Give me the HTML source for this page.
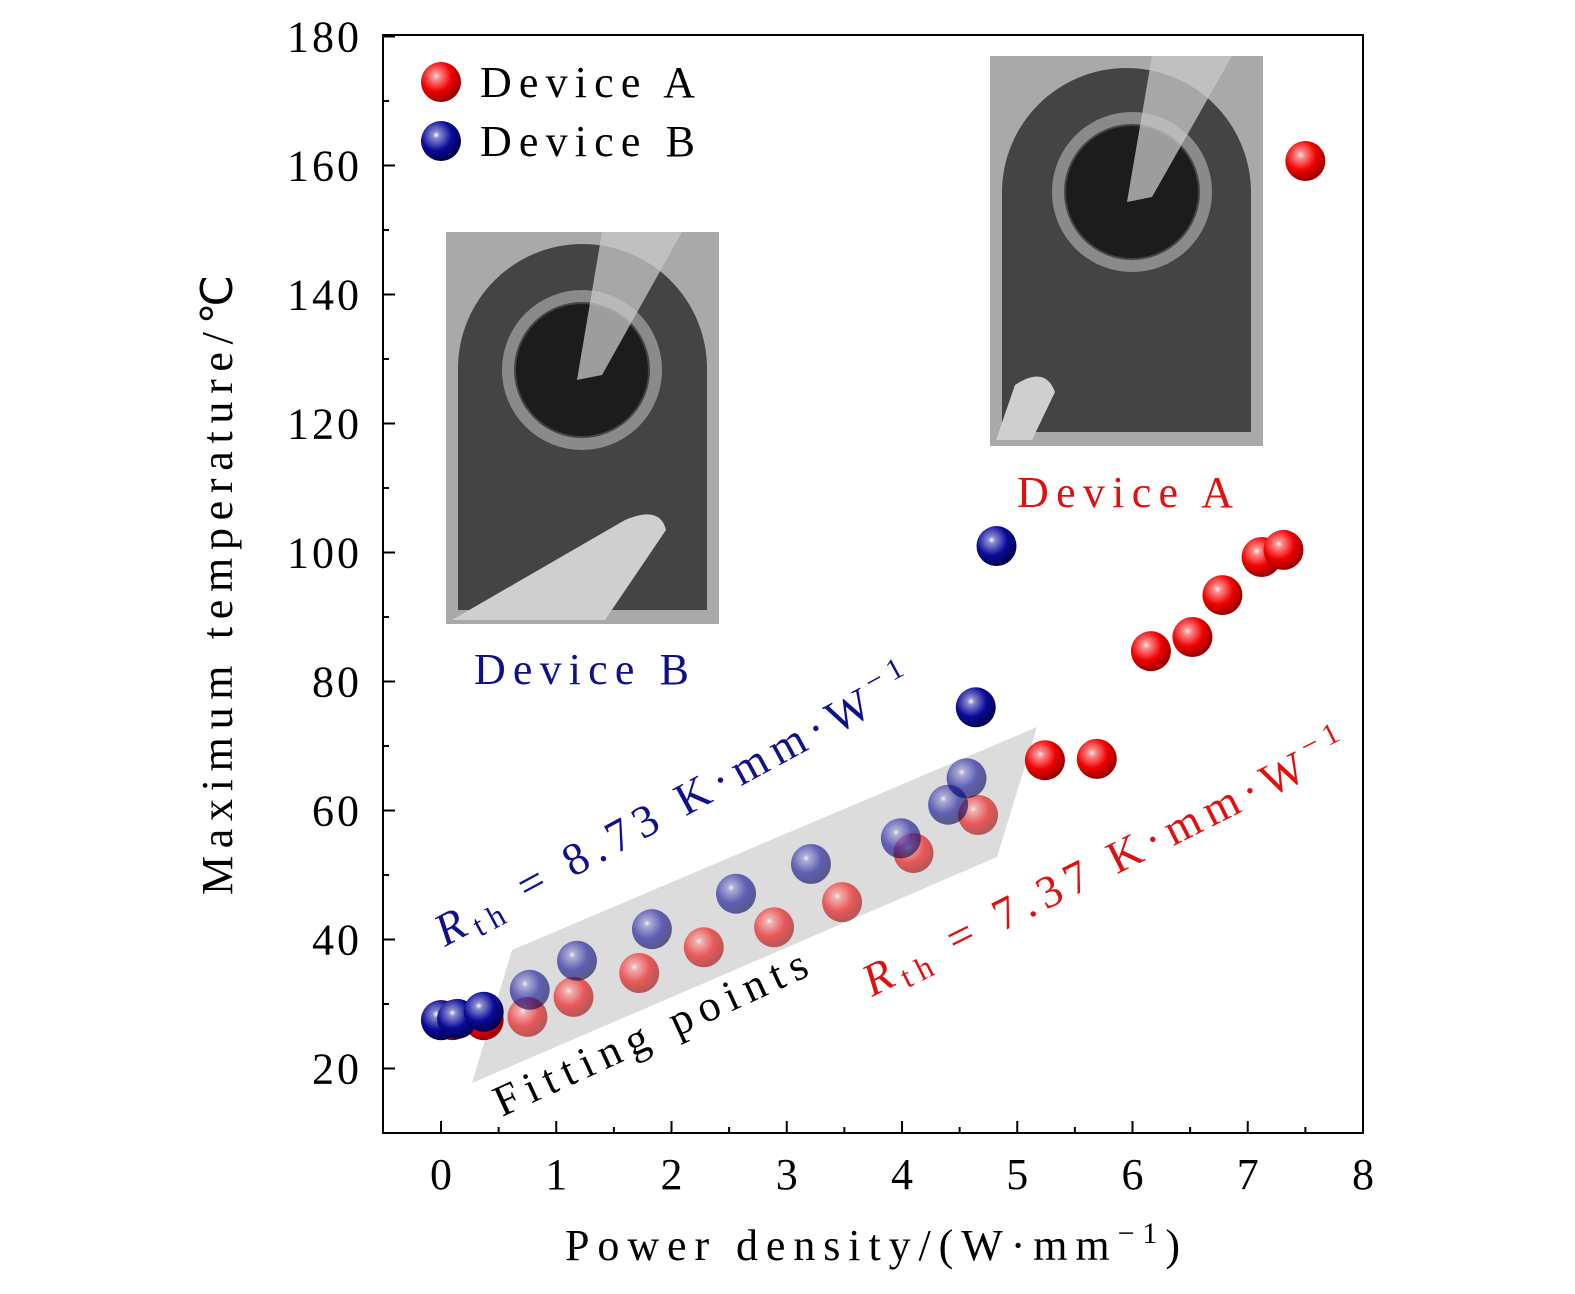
<!DOCTYPE html>
<html><head><meta charset="utf-8"><style>
body{margin:0;background:#fff}
svg text{font-family:"Liberation Serif",serif}
</style></head><body>
<svg id="chart" width="1575" height="1289" viewBox="0 0 1575 1289" xmlns="http://www.w3.org/2000/svg">
<defs>
<radialGradient id="gr" cx="0.38" cy="0.35" r="0.7"><stop offset="0" stop-color="#fff"/><stop offset="0.12" stop-color="#ff9090"/><stop offset="0.55" stop-color="#f00000"/><stop offset="1" stop-color="#8a0000"/></radialGradient>
<radialGradient id="gb" cx="0.38" cy="0.35" r="0.7"><stop offset="0" stop-color="#fff"/><stop offset="0.12" stop-color="#8c8cd0"/><stop offset="0.55" stop-color="#0a0a9a"/><stop offset="1" stop-color="#000040"/></radialGradient>
</defs>
<g id="insets"></g>
<polygon points="472,1083 512,950 1037,727 997,857" fill="#dcdcdc"/>
<g id="marks"></g>
<rect x="383" y="35" width="980" height="1098" fill="none" stroke="#000" stroke-width="2"/>
<g id="axes"></g>
<text x="565" y="1260" font-size="44" textLength="615" lengthAdjust="spacing">Power density/(W·mm<tspan font-size="30" dy="-17">−1</tspan><tspan dy="17">)</tspan></text>
<text transform="translate(232,895) rotate(-90)" font-size="44" textLength="620" lengthAdjust="spacing">Maximum temperature/℃</text>
<g>
<circle cx="441" cy="82" r="20" fill="url(#gr)"/><text x="480" y="97" font-size="44" textLength="215" lengthAdjust="spacing">Device A</text>
<circle cx="441" cy="141" r="20" fill="url(#gb)"/><text x="480" y="156" font-size="44" textLength="215" lengthAdjust="spacing">Device B</text>
</g>
<text x="1017" y="507" font-size="44" fill="#e01010" textLength="216" lengthAdjust="spacing">Device A</text>
<text x="474" y="684" font-size="44" fill="#10108a" textLength="215" lengthAdjust="spacing">Device B</text>
<text transform="translate(445,947) rotate(-28.5)" font-size="46" fill="#10108a" textLength="535" lengthAdjust="spacing"><tspan font-style="italic">R</tspan><tspan font-size="32" dy="8">th</tspan><tspan dy="-8"> = 8.73 K·mm·W</tspan><tspan font-size="30" dy="-20">−1</tspan></text>
<text transform="translate(872,997) rotate(-26.6)" font-size="46" fill="#e01010" textLength="535" lengthAdjust="spacing"><tspan font-style="italic">R</tspan><tspan font-size="32" dy="8">th</tspan><tspan dy="-8"> = 7.37 K·mm·W</tspan><tspan font-size="30" dy="-20">−1</tspan></text>
<text transform="translate(502,1117) rotate(-24.7)" font-size="44" textLength="340" lengthAdjust="spacing">Fitting points</text>
</svg>
<script>
const xTicks=[0,1,2,3,4,5,6,7,8];
const yTicks=[20,40,60,80,100,120,140,160,180];
const aX=[0,0.1,0.37,0.75,1.15,1.72,2.28,2.89,3.48,4.1,4.66,5.24,5.69,6.16,6.52,6.78,7.12,7.31,7.5];
const aY=[27.5,27.5,27.5,28,31.1,34.8,38.8,41.9,45.8,53.4,59.3,67.8,68,84.7,86.9,93.4,99.3,100.4,160.7];
const bX=[0,0.14,0.37,0.77,1.18,1.83,2.56,3.21,3.99,4.4,4.56,4.64,4.82];
const bY=[27.5,27.7,28.8,32.2,36.7,41.6,47.1,51.7,55.7,60.9,65,76,101];
const fadedA=[0,0,0,1,1,1,1,1,1,1,1,0,0,0,0,0,0,0,0];
const fadedB=[0,0,0,1,1,1,1,1,1,1,1,0,0];
const NS="http://www.w3.org/2000/svg";
const sx=v=>441+v*115.25, sy=v=>1133-(v-10)*6.45;
function mk(t,a,p){const e=document.createElementNS(NS,t);for(const k in a)e.setAttribute(k,a[k]);p.appendChild(e);return e;}
const axes=document.getElementById('axes');
xTicks.forEach(v=>{const x=sx(v);
 const t=mk('line',{x1:x,x2:x,y1:1133,y2:1121,stroke:'#000','stroke-width':2},axes);
 
 const l=mk('text',{x:x,y:1189,'font-size':44,'text-anchor':'middle'},axes);l.textContent=v;
 
 if(v<8){const m=mk('line',{x1:sx(v+0.5),x2:sx(v+0.5),y1:1133,y2:1127,stroke:'#000','stroke-width':2},axes);
 }
});
yTicks.forEach(v=>{const y=sy(v);
 const t=mk('line',{x1:383,x2:395,y1:y,y2:y,stroke:'#000','stroke-width':2},axes);
 
 const l=mk('text',{x:362,y:y+15,'font-size':44,'text-anchor':'end','letter-spacing':3},axes);l.textContent=v;
 
 const m=mk('line',{x1:383,x2:389,y1:sy(v-10),y2:sy(v-10),stroke:'#000','stroke-width':2},axes);
 
});
const ins=document.getElementById('insets');
function inset(x,y,w,h,name,cx,cy){
 const g=mk('g',{},ins);
 mk('rect',{x:x,y:y,width:w,height:h,fill:'#a9a9a9'},g);
 const r=(w-24)/2;
 mk('path',{d:`M${x+12},${y+h-14} L${x+12},${y+12+r} A${r},${r} 0 0 1 ${x+w-12},${y+12+r} L${x+w-12},${y+h-14} Z`,fill:'#444'},g);
 mk('circle',{cx:cx,cy:cy,r:74,fill:'none',stroke:'#8a8a8a','stroke-width':12},g);
 mk('circle',{cx:cx,cy:cy,r:66,fill:'#1c1c1c'},g);
 mk('path',{d:`M${cx-5},${cy+10} L${cx+20},${y} L${cx+100},${y} L${cx+20},${cy+5} Z`,fill:'#c8c8c8',opacity:0.75},g);
 return g;
}
const gB=inset(446,232,273,392,'inset-device-b',582,370);
const gA=inset(990,56,273,390,'inset-device-a',1132,192);
mk('path',{d:'M996,440 L1015,385 Q1045,365 1055,392 L1032,440 Z',fill:'#cfcfcf'},gA);
mk('path',{d:'M452,620 L625,520 Q660,505 666,530 L605,620 Z',fill:'#cfcfcf'},gB);
const marks=document.getElementById('marks');
aX.forEach((v,i)=>{const c=mk('circle',{cx:sx(v),cy:sy(aY[i]),r:20,fill:'url(#gr)',opacity:fadedA[i]?0.6:1},marks);
 });
bX.forEach((v,i)=>{const c=mk('circle',{cx:sx(v),cy:sy(bY[i]),r:20,fill:'url(#gb)',opacity:fadedB[i]?0.6:1},marks);
 });
</script>
</body></html>
